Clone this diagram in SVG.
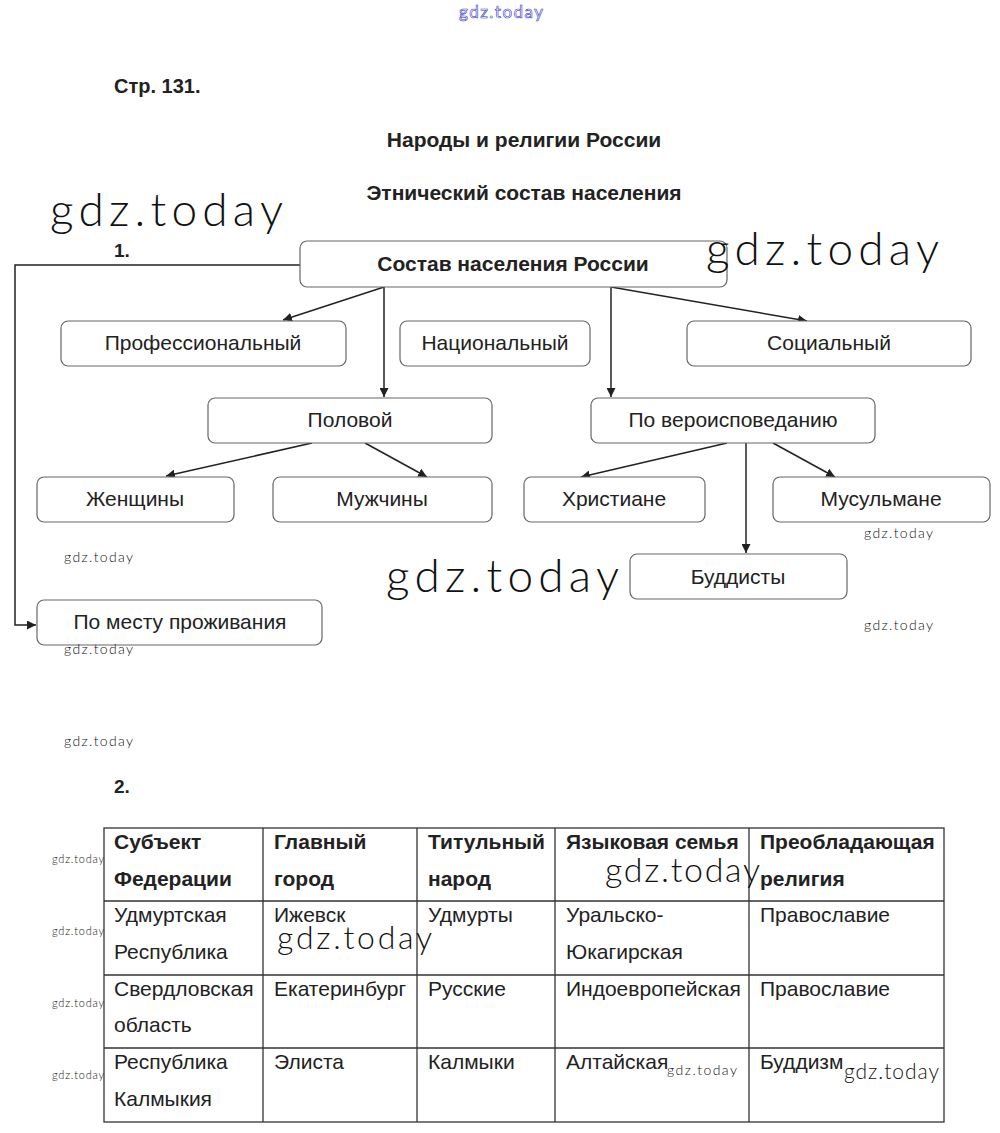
<svg xmlns="http://www.w3.org/2000/svg" width="1000" height="1133" viewBox="0 0 1000 1133">
<style>
.t{font-family:"Liberation Sans",Arial,sans-serif;fill:#222}
.b{font-weight:bold}
.box{fill:#fff;stroke:#666;stroke-width:1.2}
.lbl{font-family:"Liberation Sans",Arial,sans-serif;font-size:21px;fill:#222;text-anchor:middle}
.ln{stroke:#222;stroke-width:1.5;fill:none}
.wm{font-family:Lato,"DejaVu Sans",sans-serif;font-weight:300;fill:#111}
.grid{stroke:#333;stroke-width:1.3;fill:none}
.cell{font-family:"Liberation Sans",Arial,sans-serif;font-size:21px;fill:#222}
</style>
<defs>
<marker id="ah" viewBox="0 0 10 10" refX="10" refY="5" markerWidth="9" markerHeight="9" markerUnits="userSpaceOnUse" orient="auto">
<path d="M0,0 L10,5 L0,10 z" fill="#222"/>
</marker>
</defs>
<rect width="1000" height="1133" fill="#fff"/>

<text x="459" y="18" font-family="Lato,sans-serif" font-size="17" fill="#fff" stroke="#3333cc" stroke-width="0.6" textLength="84">gdz.today</text>

<text class="t b" x="114" y="93" font-size="20">Стр. 131.</text>
<text class="t b" x="524" y="147" font-size="21" text-anchor="middle">Народы и религии России</text>
<text class="t b" x="524" y="200" font-size="21" text-anchor="middle">Этнический состав населения</text>
<text class="t b" x="114" y="257" font-size="19">1.</text>

<g id="connectors">
<path class="ln" d="M300,265 H15 V625 H36" marker-end="url(#ah)"/>
<path class="ln" d="M384,287 L283,320" marker-end="url(#ah)"/>
<path class="ln" d="M384,287 V397" marker-end="url(#ah)"/>
<path class="ln" d="M611,287 V397" marker-end="url(#ah)"/>
<path class="ln" d="M611,287 L807,321" marker-end="url(#ah)"/>
<path class="ln" d="M312,443 L166,476" marker-end="url(#ah)"/>
<path class="ln" d="M365,443 L427,477" marker-end="url(#ah)"/>
<path class="ln" d="M727,443 L581,477" marker-end="url(#ah)"/>
<path class="ln" d="M773,443 L835,477" marker-end="url(#ah)"/>
<path class="ln" d="M746,443 V553" marker-end="url(#ah)"/>
</g>

<g id="root"><rect class="box" x="300" y="241" width="427" height="46" rx="7"/><text class="lbl b" x="513" y="271">Состав населения России</text></g>
<g id="prof"><rect class="box" x="61" y="321" width="285" height="45" rx="7"/><text class="lbl" x="203" y="350">Профессиональный</text></g>
<g id="nat"><rect class="box" x="400" y="321" width="190" height="45" rx="7"/><text class="lbl" x="495" y="350">Национальный</text></g>
<g id="soc"><rect class="box" x="687" y="321" width="284" height="45" rx="7"/><text class="lbl" x="829" y="350">Социальный</text></g>
<g id="pol"><rect class="box" x="208" y="398" width="284" height="45" rx="7"/><text class="lbl" x="350" y="427">Половой</text></g>
<g id="rel"><rect class="box" x="591" y="398" width="284" height="45" rx="7"/><text class="lbl" x="733" y="427">По вероисповеданию</text></g>
<g id="wom"><rect class="box" x="37" y="477" width="197" height="45" rx="7"/><text class="lbl" x="135" y="506">Женщины</text></g>
<g id="men"><rect class="box" x="273" y="477" width="219" height="45" rx="7"/><text class="lbl" x="382" y="506">Мужчины</text></g>
<g id="chr"><rect class="box" x="524" y="477" width="181" height="45" rx="7"/><text class="lbl" x="614" y="506">Христиане</text></g>
<g id="mus"><rect class="box" x="773" y="477" width="217" height="45" rx="7"/><text class="lbl" x="881" y="506">Мусульмане</text></g>
<g id="bud"><rect class="box" x="630" y="554" width="217" height="45" rx="7"/><text class="lbl" x="738" y="584">Буддисты</text></g>
<g id="res"><rect class="box" x="37" y="600" width="285" height="45" rx="7"/><text class="lbl" x="180" y="629">По месту проживания</text></g>

<text class="t b" x="114" y="793" font-size="19">2.</text>

<g id="table">
<rect class="grid" x="104" y="828" width="840" height="294"/>
<path class="grid" d="M263,828 V1122 M417,828 V1122 M555,828 V1122 M749,828 V1122 M104,901 H944 M104,975 H944 M104,1048 H944"/>
<g class="cell b">
<text x="114" y="849">Субъект</text><text x="114" y="886">Федерации</text>
<text x="274" y="849">Главный</text><text x="274" y="886">город</text>
<text x="428" y="849">Титульный</text><text x="428" y="886">народ</text>
<text x="566" y="849">Языковая семья</text>
<text x="760" y="849">Преобладающая</text><text x="760" y="886">религия</text>
</g>
<g class="cell">
<text x="114" y="922">Удмуртская</text><text x="114" y="959">Республика</text>
<text x="274" y="922">Ижевск</text>
<text x="428" y="922">Удмурты</text>
<text x="566" y="922">Уральско-</text><text x="566" y="959">Юкагирская</text>
<text x="760" y="922">Православие</text>
<text x="114" y="996">Свердловская</text><text x="114" y="1032">область</text>
<text x="274" y="996">Екатеринбург</text>
<text x="428" y="996">Русские</text>
<text x="566" y="996">Индоевропейская</text>
<text x="760" y="996">Православие</text>
<text x="114" y="1069">Республика</text><text x="114" y="1106">Калмыкия</text>
<text x="274" y="1069">Элиста</text>
<text x="428" y="1069">Калмыки</text>
<text x="566" y="1069">Алтайская</text>
<text x="760" y="1069">Буддизм</text>
</g>
</g>

<g id="watermarks">
<text class="wm" x="50" y="226" font-size="46" textLength="233">gdz.today</text>
<text class="wm" x="706" y="265" font-size="46" textLength="233">gdz.today</text>
<text class="wm" x="386" y="592" font-size="46" textLength="233">gdz.today</text>
<text class="wm" x="605" y="882" font-size="34" textLength="155">gdz.today</text>
<text class="wm" x="277" y="949" font-size="32" textLength="155">gdz.today</text>
<text class="wm" x="844" y="1079" font-size="21" textLength="95">gdz.today</text>
<text class="wm" x="667" y="1075" font-size="14" textLength="70">gdz.today</text>
<text class="wm" x="64" y="562" font-size="14" textLength="69">gdz.today</text>
<text class="wm" x="864" y="538" font-size="14" textLength="69">gdz.today</text>
<text class="wm" x="864" y="630" font-size="14" textLength="69">gdz.today</text>
<text class="wm" x="64" y="654" font-size="14" textLength="69">gdz.today</text>
<text class="wm" x="64" y="746" font-size="14" textLength="69">gdz.today</text>
<text class="wm" x="52" y="863" font-size="11" textLength="52">gdz.today</text>
<text class="wm" x="52" y="935" font-size="11" textLength="52">gdz.today</text>
<text class="wm" x="52" y="1007" font-size="11" textLength="52">gdz.today</text>
<text class="wm" x="52" y="1079" font-size="11" textLength="52">gdz.today</text>
</g>
</svg>
